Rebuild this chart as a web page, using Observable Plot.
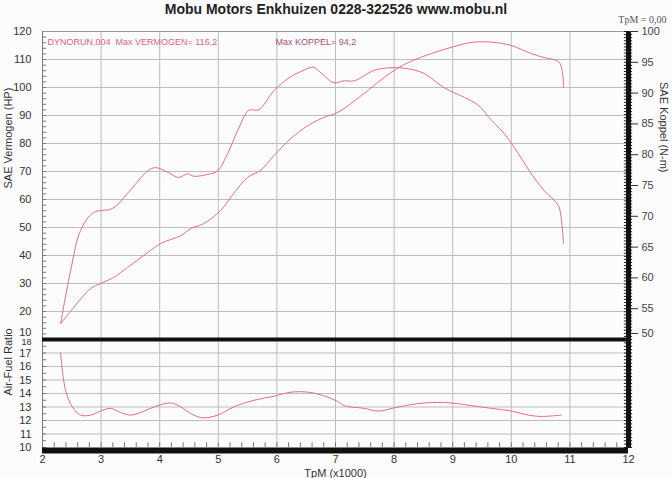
<!DOCTYPE html>
<html><head><meta charset="utf-8">
<script src="https://cdn.jsdelivr.net/npm/d3@7"></script>
<script src="https://cdn.jsdelivr.net/npm/@observablehq/plot@0.6"></script>
<style>
html,body{margin:0;padding:0;background:#fff;}
#chart{position:relative;width:672px;height:478px;overflow:hidden;background:#fcfcfc;font-family:"Liberation Sans",Arial,sans-serif;}
#chart svg{position:absolute;left:0;top:0;}
#title{position:absolute;left:0;width:672px;top:0;text-align:center;font-weight:bold;font-size:14px;color:#222;line-height:18px;z-index:5;}
</style></head>
<body>
<div id="chart"><div id="title">Mobu Motors Enkhuizen 0228-322526 www.mobu.nl</div></div>
<script>
// ---- data (read from the dyno sheet) ----
const rpmPower = [2.31,2.53,2.82,2.99,3.21,3.45,3.80,4.02,4.36,4.53,4.75,5.04,5.26,5.50,5.72,5.95,6.24,6.53,6.80,7.04,7.44,7.95,8.24,8.63,8.97,9.32,9.66,10.00,10.34,10.56,10.82,10.89];
const powerHP  = [15.7,21.4,28.2,30.0,32.1,35.7,41.1,44.3,47.1,49.6,51.4,56.1,62.1,67.9,70.4,75.7,81.8,86.4,89.3,91.1,97.1,105.4,108.9,112.1,114.3,116.1,116.2,115.0,112.1,110.7,108.9,100.0];

const rpmTorque = [2.31,2.48,2.65,2.87,3.20,3.45,3.80,3.93,4.15,4.32,4.48,4.58,4.82,4.99,5.16,5.33,5.52,5.69,5.95,6.21,6.41,6.62,6.75,6.97,7.15,7.32,7.66,7.91,8.21,8.51,8.85,9.20,9.44,9.66,9.88,10.12,10.34,10.56,10.80,10.85,10.89];
const torqueNm  = [52.6,61.2,67.7,70.6,71.3,73.7,77.4,77.9,77.1,76.3,76.9,76.5,76.8,77.4,80.2,83.9,87.2,87.3,90.4,92.5,93.5,94.2,93.3,91.7,92.0,92.0,93.7,94.1,94.0,93.2,90.9,89.3,88.0,85.6,83.4,80.2,76.9,74.2,71.8,69.8,65.6];

const rpmAfr = [2.31,2.39,2.51,2.65,2.82,2.99,3.16,3.33,3.50,3.68,3.90,4.19,4.36,4.58,4.75,4.99,5.26,5.61,5.95,6.24,6.53,6.75,7.04,7.15,7.49,7.73,8.07,8.51,8.97,9.32,9.66,10.00,10.29,10.51,10.85];
const afr    = [17.0,14.3,13.0,12.4,12.4,12.7,12.9,12.6,12.4,12.6,13.0,13.3,13.0,12.4,12.2,12.4,13.0,13.5,13.8,14.1,14.1,13.9,13.4,13.1,12.9,12.7,13.0,13.3,13.3,13.1,12.9,12.7,12.4,12.3,12.4];

const rpmTicks = [2,3,4,5,6,7,8,9,10,11,12];
const hpTicks = [10,20,30,40,50,60,70,80,90,100,110,120];
const nmTicks = [50,55,60,65,70,75,80,85,90,95,100];
const afrTicks = [10,11,12,13,14,15,16,17,18];

const runLabel = "DYNORUN.004\u00a0\u00a0Max VERMOGEN= 116,2";
const koppelLabel = "Max KOPPEL= 94,2";
const tpmLabel = "TpM = 0,00";
const hpTitle = "SAE Vermogen (HP)";
const nmTitle = "SAE Koppel (N-m)";
const afrTitle = "Air-Fuel Ratio";
const xTitle = "TpM (x1000)";

const powerData = rpmPower.map((r,i)=>({rpm:r, v:powerHP[i]}));
const torqueData = rpmTorque.map((r,i)=>({rpm:r, v:torqueNm[i]}));
const afrData = rpmAfr.map((r,i)=>({rpm:r, v:afr[i]}));

const W = 672, H = 478, ML = 42, MR = 44;
const curveColor = "#e0707f";
const gridColor = "#bdbdbd";
const baseStyle = {background:"transparent", fontFamily:"'Liberation Sans', Arial, sans-serif", fontSize:"11px", color:"#333", overflow:"visible"};
const chart = document.getElementById("chart");

// ---- top panel: power (left axis) ----
const top1 = Plot.plot({
  width: W, height: H, marginLeft: ML, marginRight: MR, marginTop: 31, marginBottom: 139,
  x: {domain: [2, 12], axis: null},
  y: {domain: [10, 120]},
  style: baseStyle,
  marks: [
    Plot.ruleY(hpTicks.slice(1, -1), {stroke: gridColor, strokeWidth: 1}),
    Plot.ruleX(rpmTicks.slice(1, -1), {stroke: gridColor, strokeWidth: 1}),
    Plot.ruleY([120], {stroke: "#999", strokeWidth: 1}),
    Plot.ruleX([2], {stroke: "#777", strokeWidth: 1}),
    Plot.ruleY(d3.range(10, 120, 2), {x1: 2, x2: 2.07, stroke: "#777", strokeWidth: 1}),
    Plot.line(powerData, {x: "rpm", y: "v", stroke: curveColor, strokeWidth: 1, curve: "catmull-rom"}),
    Plot.axisY({anchor: "left", ticks: hpTicks.slice(1), tickSize: 0, tickPadding: 11, fill: "#333", label: null}),
    Plot.axisY({anchor: "left", ticks: hpTicks.slice(0, 1), tickSize: 0, tickPadding: 11, dy: -7, fill: "#333", label: null}),
    Plot.text([hpTitle], {frameAnchor: "left", dx: -34, dy: 3, rotate: -90, fontSize: 11, fill: "#333"}),
    Plot.text([runLabel], {frameAnchor: "top-left", textAnchor: "start", lineAnchor: "top", dx: 5, dy: 7, fontSize: 9, fill: "#d9657b"}),
    Plot.text([koppelLabel], {frameAnchor: "top-left", textAnchor: "start", lineAnchor: "top", dx: 233, dy: 7, fontSize: 9, fill: "#a3507f"})
  ]
});
chart.appendChild(top1);

// ---- top panel overlay: torque (right axis) ----
const top2 = Plot.plot({
  width: W, height: H, marginLeft: ML, marginRight: MR, marginTop: 31, marginBottom: 139,
  x: {domain: [2, 12], axis: null},
  y: {domain: [50, 100]},
  style: baseStyle,
  marks: [
    Plot.line(torqueData, {x: "rpm", y: "v", stroke: curveColor, strokeWidth: 1, curve: "catmull-rom"}),
    Plot.ruleY(d3.range(50, 100.01, 0.5), {x1: 11.93, x2: 12.07, stroke: "#222", strokeWidth: 1}),
    Plot.ruleX([12], {stroke: "#111", strokeWidth: 5}),
    Plot.axisY({anchor: "right", ticks: nmTicks.slice(1), tickSize: 9, tickPadding: 4, fill: "#444", stroke: "#333", label: null}),
    Plot.axisY({anchor: "right", ticks: nmTicks.slice(0, 1), tickSize: 9, tickPadding: 4, dy: -6, fill: "#444", stroke: "#333", label: null}),
    Plot.text([nmTitle], {frameAnchor: "right", dx: 35, dy: -13, rotate: 90, fontSize: 11, fill: "#333"}),
    Plot.text([tpmLabel], {frameAnchor: "top-right", textAnchor: "end", lineAnchor: "top", dx: 38, dy: -16, fontSize: 10, fontFamily: "'Liberation Serif', 'Times New Roman', serif", fill: "#555"})
  ]
});
chart.appendChild(top2);

// ---- bottom panel: air-fuel ratio ----
const bot = Plot.plot({
  width: W, height: H, marginLeft: ML, marginRight: MR, marginTop: 339, marginBottom: 31,
  x: {domain: [2, 12]},
  y: {domain: [10, 18]},
  style: baseStyle,
  marks: [
    Plot.ruleY(afrTicks.slice(1, -1), {stroke: gridColor, strokeWidth: 1}),
    Plot.ruleX(rpmTicks.slice(1, -1), {stroke: gridColor, strokeWidth: 1}),
    Plot.ruleX([2], {stroke: "#777", strokeWidth: 1}),
    Plot.ruleY(d3.range(10, 18, 0.5), {x1: 2, x2: 2.07, stroke: "#777", strokeWidth: 1}),
    Plot.ruleX(d3.range(2, 12, 0.2), {y1: 10, y2: 10.35, stroke: "#777", strokeWidth: 1}),
    Plot.ruleY(d3.range(10, 18.01, 0.25), {x1: 11.93, x2: 12.07, stroke: "#222", strokeWidth: 1}),
    Plot.line(afrData, {x: "rpm", y: "v", stroke: curveColor, strokeWidth: 1, curve: "catmull-rom"}),
    Plot.ruleY([18], {stroke: "#111", strokeWidth: 4}),
    Plot.ruleY([10], {stroke: "#111", strokeWidth: 6, dy: 3}),
    Plot.ruleX([12], {stroke: "#111", strokeWidth: 5}),
    Plot.axisY({anchor: "left", ticks: afrTicks.slice(0, -1), tickSize: 0, tickPadding: 11, fill: "#333", label: null}),
    Plot.axisY({anchor: "left", ticks: afrTicks.slice(-1), tickSize: 0, tickPadding: 11, dy: 3, fontSize: 9, fill: "#333", label: null}),
    Plot.axisX({anchor: "bottom", ticks: rpmTicks, tickSize: 0, tickPadding: 8, fill: "#333", label: null}),
    Plot.text([afrTitle], {frameAnchor: "left", dx: -34, dy: 2, rotate: -90, fontSize: 11, fill: "#333"}),
    Plot.text([xTitle], {frameAnchor: "bottom", dy: 29, fontSize: 11, fill: "#333"})
  ]
});
chart.appendChild(bot);
</script>
</body></html>
